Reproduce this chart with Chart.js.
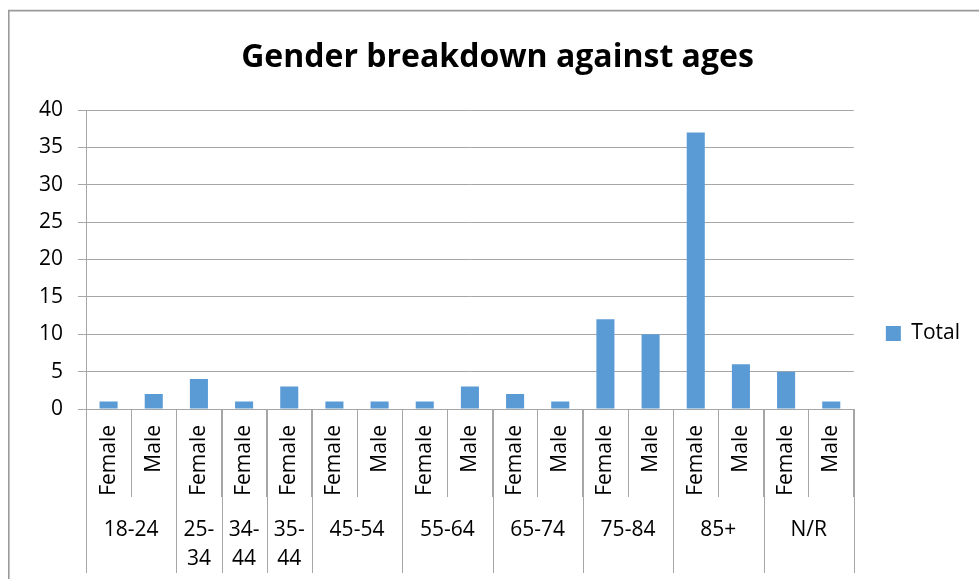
<!DOCTYPE html>
<html>
<head>
<meta charset="utf-8">
<script src="https://cdn.jsdelivr.net/npm/chart.js@4.4.1/dist/chart.umd.min.js"></script>
<style>
  html, body { margin: 0; padding: 0; background: #fff; }
  #wrap { position: relative; width: 979px; height: 579px; }
</style>
</head>
<body>
<div id="wrap"><canvas id="c"></canvas></div>
<script>
// ---- data ----
const ageBands = ['18-24','18-24','25-34','34-44','35-44','45-54','45-54','55-64','55-64','65-74','65-74','75-84','75-84','85+','85+','N/R','N/R'];
const genders  = ['Female','Male','Female','Female','Female','Female','Male','Female','Male','Female','Male','Female','Male','Female','Male','Female','Male'];
const totals   = [1, 2, 4, 1, 3, 1, 1, 1, 3, 2, 1, 12, 10, 37, 6, 5, 1];
const seriesName = 'Total';
const chartTitle = 'Gender breakdown against ages';
const yMin = 0, yMax = 40, yStep = 5;

// ---- styles ----
const FONT = "'Open Sans', sans-serif";
const GRID = '#a6a6a6';
const BAR = '#5B9BD5';

Chart.defaults.font.family = FONT;
Chart.defaults.color = '#000';

const framePlugin = {
  id: 'frame',
  beforeDraw(chart) {
    const ctx = chart.ctx;
    ctx.save();
    ctx.strokeStyle = '#9a9a9a';
    ctx.lineWidth = 1.6;
    ctx.beginPath();
    ctx.moveTo(8.8, 579);
    ctx.lineTo(8.8, 10.6);
    ctx.lineTo(979, 10.6);
    ctx.stroke();
    ctx.restore();
  }
};

const legendShift = {
  id: 'legendShift',
  afterLayout(chart) {
    const lg = chart.legend;
    if (!lg) return;
    const d = 333.5 - (lg.top + lg.bottom) / 2;
    lg.top += d; lg.bottom += d;
  }
};

const groupPlugin = {
  id: 'groups',
  afterDraw(chart) {
    const x = chart.scales.x;
    const ctx = chart.ctx;
    const half = (x.getPixelForValue(1) - x.getPixelForValue(0)) / 2;
    const runs = [];
    ageBands.forEach((g, i) => {
      if (!runs.length || runs[runs.length - 1].label !== g) runs.push({ label: g, start: i, end: i });
      else runs[runs.length - 1].end = i;
    });
    ctx.save();
    ctx.strokeStyle = GRID;
    ctx.lineWidth = 1;
    const top = x.top, bottom = x.bottom;
    const edges = new Set();
    runs.forEach(r => {
      edges.add(Math.round(x.getPixelForValue(r.start) - half));
      edges.add(Math.round(x.getPixelForValue(r.end) + half));
    });
    ctx.beginPath();
    edges.forEach(px => { ctx.moveTo(px + 0.5, top); ctx.lineTo(px + 0.5, bottom); });
    ctx.stroke();
    ctx.fillStyle = '#000';
    ctx.font = '21px ' + FONT;
    ctx.textAlign = 'center';
    ctx.textBaseline = 'middle';
    runs.forEach(r => {
      const l = x.getPixelForValue(r.start) - half;
      const rt = x.getPixelForValue(r.end) + half;
      const cx = (l + rt) / 2;
      let lines = [r.label];
      if (ctx.measureText(r.label).width > (rt - l) - 6 && r.label.indexOf('-') > 0) {
        const k = r.label.indexOf('-');
        lines = [r.label.slice(0, k + 1), r.label.slice(k + 1)];
      }
      lines.forEach((t, j) => ctx.fillText(t, cx, top + 121 + j * 29));
    });
    ctx.restore();
  }
};

new Chart(document.getElementById('c'), {
  type: 'bar',
  data: {
    labels: genders,
    datasets: [{
      label: seriesName,
      data: totals,
      backgroundColor: BAR,
      borderWidth: 0,
      barPercentage: 0.4,
      categoryPercentage: 1.0
    }]
  },
  options: {
    responsive: true,
    maintainAspectRatio: false,
    animation: false,
    events: [],
    layout: { padding: { left: 25, right: 9, top: 0, bottom: 6 } },
    plugins: {
      title: {
        display: true,
        text: chartTitle,
        font: { family: FONT, size: 32, weight: 'bold', lineHeight: 1.2 },
        color: '#000',
        padding: { top: 39, bottom: 32.6 }
      },
      legend: {
        display: true,
        position: 'right',
        fullSize: false,
        labels: {
          boxWidth: 15,
          boxHeight: 15,
          padding: 32,
          font: { family: FONT, size: 21 },
          color: '#000'
        }
      },
      tooltip: { enabled: false }
    },
    scales: {
      x: {
        type: 'category',
        offset: true,
        grid: {
          display: true,
          offset: true,
          drawOnChartArea: false,
          drawTicks: true,
          tickLength: 88,
          color: GRID,
          tickColor: GRID,
          lineWidth: 1
        },
        border: { display: true, color: GRID, width: 1 },
        ticks: {
          autoSkip: false,
          minRotation: 90,
          maxRotation: 90,
          padding: -72,
          font: { family: FONT, size: 21 },
          color: '#000'
        },
        afterFit(scale) { scale.height = 164; }
      },
      y: {
        min: yMin,
        max: yMax,
        ticks: {
          stepSize: yStep,
          padding: 15,
          font: { family: FONT, size: 21 },
          color: '#000'
        },
        grid: {
          color: GRID,
          tickColor: GRID,
          drawTicks: true,
          tickLength: 8,
          lineWidth: 1
        },
        border: { display: true, color: GRID, width: 1 },
        afterFit(scale) { scale.width = 61; }
      }
    }
  },
  plugins: [framePlugin, legendShift, groupPlugin]
});
</script>
</body>
</html>
